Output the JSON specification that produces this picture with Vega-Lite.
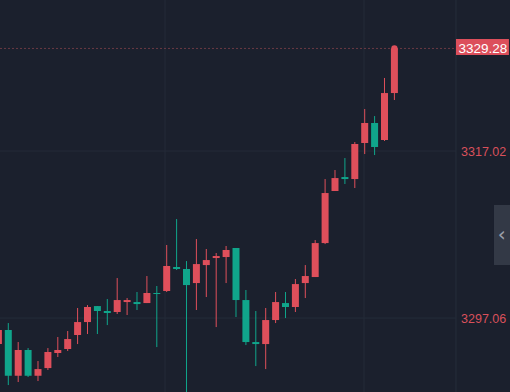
{
  "$schema": "https://vega.github.io/schema/vega-lite/v6.json",
  "width": 510,
  "height": 392,
  "autosize": {"type": "none"},
  "padding": 0,
  "background": "#1b202d",
  "config": {"view": {"stroke": null}},
  "datasets": {
    "candles": [
      {"t": 0, "o": 3293.95, "h": 3296.0, "l": 3293.6, "c": 3295.63},
      {"t": 1, "o": 3295.63, "h": 3296.46, "l": 3289.05, "c": 3290.16},
      {"t": 2, "o": 3290.16, "h": 3294.19, "l": 3289.41, "c": 3293.24},
      {"t": 3, "o": 3293.24, "h": 3293.47, "l": 3290.01, "c": 3290.16},
      {"t": 4, "o": 3290.16, "h": 3291.92, "l": 3289.53, "c": 3290.96},
      {"t": 5, "o": 3291.08, "h": 3293.47, "l": 3290.85, "c": 3293.0},
      {"t": 6, "o": 3292.88, "h": 3294.79, "l": 3292.4, "c": 3293.24},
      {"t": 7, "o": 3293.36, "h": 3295.51, "l": 3293.12, "c": 3294.55},
      {"t": 8, "o": 3295.03, "h": 3298.26, "l": 3293.95, "c": 3296.58},
      {"t": 9, "o": 3296.58, "h": 3298.61, "l": 3295.15, "c": 3298.38},
      {"t": 10, "o": 3298.49, "h": 3298.49, "l": 3295.15, "c": 3297.9},
      {"t": 11, "o": 3297.9, "h": 3299.33, "l": 3296.22, "c": 3297.66},
      {"t": 12, "o": 3297.78, "h": 3301.84, "l": 3297.54, "c": 3299.21},
      {"t": 13, "o": 3298.97, "h": 3299.45, "l": 3297.42, "c": 3299.21},
      {"t": 14, "o": 3298.97, "h": 3300.17, "l": 3298.02, "c": 3298.73},
      {"t": 15, "o": 3298.85, "h": 3302.08, "l": 3298.85, "c": 3300.05},
      {"t": 16, "o": 3300.05, "h": 3300.89, "l": 3293.59, "c": 3299.93},
      {"t": 17, "o": 3300.29, "h": 3305.79, "l": 3300.17, "c": 3303.28},
      {"t": 18, "o": 3303.16, "h": 3308.89, "l": 3302.8, "c": 3302.92},
      {"t": 19, "o": 3302.92, "h": 3303.87, "l": 3287.9, "c": 3301.0},
      {"t": 20, "o": 3301.24, "h": 3306.5, "l": 3298.02, "c": 3303.51},
      {"t": 21, "o": 3303.39, "h": 3305.31, "l": 3299.57, "c": 3303.99},
      {"t": 22, "o": 3304.23, "h": 3304.83, "l": 3295.98, "c": 3304.47},
      {"t": 23, "o": 3304.35, "h": 3305.67, "l": 3301.24, "c": 3305.19},
      {"t": 24, "o": 3305.43, "h": 3305.43, "l": 3297.18, "c": 3299.21},
      {"t": 25, "o": 3299.21, "h": 3300.41, "l": 3293.83, "c": 3294.19},
      {"t": 26, "o": 3294.19, "h": 3297.9, "l": 3291.32, "c": 3293.95},
      {"t": 27, "o": 3293.95, "h": 3298.26, "l": 3290.96, "c": 3296.82},
      {"t": 28, "o": 3296.82, "h": 3300.17, "l": 3296.46, "c": 3298.97},
      {"t": 29, "o": 3298.85, "h": 3300.17, "l": 3297.06, "c": 3298.38},
      {"t": 30, "o": 3298.38, "h": 3301.72, "l": 3297.78, "c": 3301.12},
      {"t": 31, "o": 3301.24, "h": 3303.39, "l": 3299.45, "c": 3302.08},
      {"t": 32, "o": 3301.96, "h": 3306.38, "l": 3301.96, "c": 3306.02},
      {"t": 33, "o": 3306.02, "h": 3313.67, "l": 3305.9, "c": 3312.0},
      {"t": 34, "o": 3312.24, "h": 3314.75, "l": 3312.24, "c": 3313.79},
      {"t": 35, "o": 3313.91, "h": 3316.18, "l": 3313.08, "c": 3313.67},
      {"t": 36, "o": 3313.67, "h": 3318.1, "l": 3312.6, "c": 3317.86},
      {"t": 37, "o": 3317.98, "h": 3322.04, "l": 3316.66, "c": 3320.37},
      {"t": 38, "o": 3320.37, "h": 3321.2, "l": 3316.54, "c": 3317.5},
      {"t": 39, "o": 3318.34, "h": 3325.75, "l": 3318.22, "c": 3323.95},
      {"t": 40, "o": 3323.95, "h": 3329.45, "l": 3323.12, "c": 3329.28}
    ],
    "vgrid": [{"t": 16.83}, {"t": 36.93}],
    "sep": [{"t": 46.22}],
    "hgrid": [
      {"p": 3297.06, "t0": 0.1616, "t1": 46.22, "tl": 46.73},
      {"p": 3317.02, "t0": 0.1616, "t1": 46.22, "tl": 46.73}
    ],
    "last": [{"p": 3329.28, "t": 40, "t0": 0.1616, "t1": 46.22, "t2": 51.57, "top": 3330.41, "bot": 3328.49, "tc": 48.93, "label": "3329.28"}],
    "tab": [{"t0": 50.06, "t1": 51.8, "top": 3310.57, "bot": 3303.39, "tc": 50.85, "pc": 3306.98, "label": "‹"}]
  },
  "layer": [
    {
      "data": {"name": "vgrid"},
      "mark": {"type": "rule", "color": "#242b39", "strokeWidth": 1},
      "encoding": {
        "x": {"field": "t", "type": "quantitative", "scale": {"domain": [0.1616, 51.677], "nice": false, "zero": false, "padding": 0}, "axis": null}
      }
    },
    {
      "data": {"name": "sep"},
      "mark": {"type": "rule", "color": "#262d3b", "strokeWidth": 1},
      "encoding": {
        "x": {"field": "t", "type": "quantitative", "axis": null}
      }
    },
    {
      "data": {"name": "hgrid"},
      "mark": {"type": "rule", "color": "#242b39", "strokeWidth": 1},
      "encoding": {
        "y": {"field": "p", "type": "quantitative", "scale": {"domain": [3288.22, 3335.07], "nice": false, "zero": false}, "axis": null},
        "x": {"field": "t0", "type": "quantitative", "axis": null},
        "x2": {"field": "t1"}
      }
    },
    {
      "data": {"name": "hgrid"},
      "mark": {"type": "text", "color": "#d9505b", "fontSize": 12.5, "font": "Liberation Sans", "align": "left", "baseline": "middle", "dy": 1},
      "encoding": {
        "y": {"field": "p", "type": "quantitative", "axis": null},
        "x": {"field": "tl", "type": "quantitative", "axis": null},
        "text": {"field": "p", "type": "quantitative", "format": ".2f"}
      }
    },
    {
      "data": {"name": "last"},
      "mark": {"type": "rule", "color": "#6a3943", "strokeWidth": 1, "strokeDash": [2, 2]},
      "encoding": {
        "y": {"field": "p", "type": "quantitative", "axis": null},
        "x": {"field": "t0", "type": "quantitative", "axis": null},
        "x2": {"field": "t1"}
      }
    },
    {
      "data": {"name": "candles"},
      "mark": {"type": "rule", "strokeWidth": 1},
      "encoding": {
        "x": {"field": "t", "type": "quantitative", "axis": null},
        "y": {"field": "l", "type": "quantitative", "axis": null},
        "y2": {"field": "h"},
        "color": {"condition": {"test": "datum.c >= datum.o", "value": "#df4f5b"}, "value": "#10a58b"}
      }
    },
    {
      "data": {"name": "candles"},
      "mark": {"type": "bar", "size": 7},
      "encoding": {
        "x": {"field": "t", "type": "quantitative", "axis": null},
        "y": {"field": "o", "type": "quantitative", "axis": null},
        "y2": {"field": "c"},
        "color": {"condition": {"test": "datum.c >= datum.o", "value": "#df4f5b"}, "value": "#10a58b"}
      }
    },
    {
      "data": {"name": "last"},
      "mark": {"type": "point", "filled": true, "shape": "circle", "size": 40, "color": "#df4f5b", "opacity": 1},
      "encoding": {
        "x": {"field": "t", "type": "quantitative", "axis": null},
        "y": {"field": "p", "type": "quantitative", "axis": null}
      }
    },
    {
      "data": {"name": "last"},
      "mark": {"type": "rect", "color": "#dc4f5b"},
      "encoding": {
        "x": {"field": "t1", "type": "quantitative", "axis": null},
        "x2": {"field": "t2"},
        "y": {"field": "top", "type": "quantitative", "axis": null},
        "y2": {"field": "bot"}
      }
    },
    {
      "data": {"name": "last"},
      "mark": {"type": "text", "color": "#ffffff", "fontSize": 13.5, "font": "Liberation Sans", "align": "center", "baseline": "middle", "dy": 1},
      "encoding": {
        "x": {"field": "tc", "type": "quantitative", "axis": null},
        "y": {"field": "p", "type": "quantitative", "axis": null},
        "text": {"field": "label"}
      }
    },
    {
      "data": {"name": "tab"},
      "mark": {"type": "rect", "color": "#333946"},
      "encoding": {
        "x": {"field": "t0", "type": "quantitative", "axis": null},
        "x2": {"field": "t1"},
        "y": {"field": "top", "type": "quantitative", "axis": null},
        "y2": {"field": "bot"}
      }
    },
    {
      "data": {"name": "tab"},
      "mark": {"type": "text", "color": "#9aa0ab", "fontSize": 20, "font": "DejaVu Sans", "align": "center", "baseline": "middle"},
      "encoding": {
        "x": {"field": "tc", "type": "quantitative", "axis": null},
        "y": {"field": "pc", "type": "quantitative", "axis": null},
        "text": {"field": "label"}
      }
    }
  ]
}
